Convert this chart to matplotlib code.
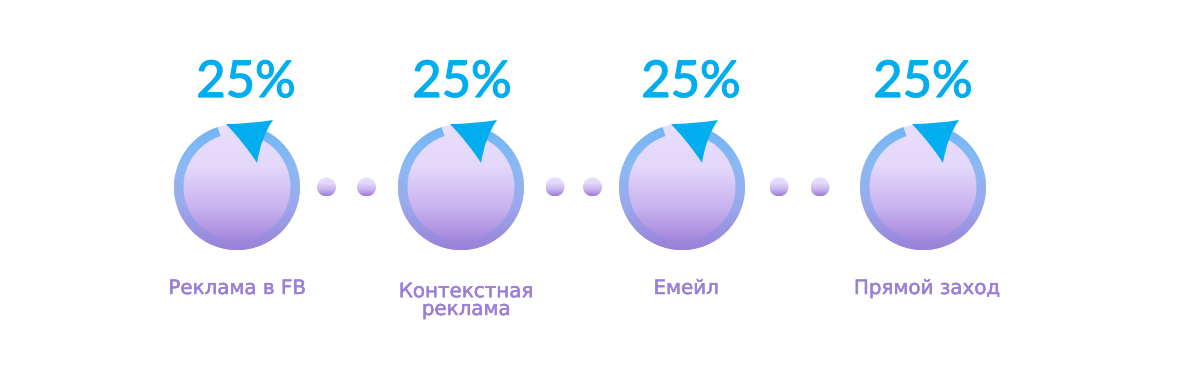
import matplotlib
matplotlib.use('Agg')
import matplotlib.pyplot as plt
from matplotlib.patches import Circle, Wedge, PathPatch
from matplotlib.path import Path
from matplotlib.colors import LinearSegmentedColormap
import matplotlib.patheffects as pe
import numpy as np

# data
categories = ['Реклама в FB', 'Контекстная\nреклама', 'Емейл', 'Прямой заход']
shares = [25, 25, 25, 25]

# layout (pixels, y down)
W, H = 1200, 380
CX = [237, 461, 682, 923]
CY = 187
PCT_X = [246, 462, 691, 923]
LBL_X = [237, 466, 686, 927]
LBL_Y = [294, 315, 294, 294]
DOT_X = [326.5, 366.5, 555, 592.5, 779, 820]
R_OUT, R_IN = 63, 53.5
R_DOT = 9.5

blue = '#00aeef'
lbl_col = '#9a7fd6'
inner_cmap = LinearSegmentedColormap.from_list('inner', ['#e8defd', '#e4d8fb', '#c8b2ef', '#9a7bd6'])
ring_cmap = LinearSegmentedColormap.from_list('ring', ['#6fb5f3', '#8cb9f4', '#9aa8ec', '#9a80d8'])
grad = np.linspace(0, 1, 256).reshape(-1, 1)

fig = plt.figure(figsize=(12, 3.8), dpi=100)
ax = fig.add_axes([0, 0, 1, 1])
ax.set_xlim(0, W)
ax.set_ylim(H, 0)
ax.set_aspect('equal')
ax.axis('off')


def grad_fill(patch, cmap, x0, x1, y0, y1, z):
    ax.add_patch(patch)
    patch.set_visible(False)
    im = ax.imshow(grad, cmap=cmap, extent=(x0, x1, y1, y0), origin='upper',
                   aspect='auto', zorder=z, interpolation='bicubic')
    im.set_clip_path(patch)


for i, (cat, val) in enumerate(zip(categories, shares)):
    cx = CX[i]
    # body
    grad_fill(Circle((cx, CY), R_OUT), inner_cmap,
              cx - R_OUT, cx + R_OUT, CY - R_OUT, CY + R_OUT, 1)
    # ring with a gap at the top
    grad_fill(Wedge((cx, CY), R_OUT, 296, 612, width=R_OUT - R_IN), ring_cmap,
              cx - R_OUT, cx + R_OUT, CY - R_OUT, CY + R_OUT, 2)
    # arrow head
    verts = [(cx - 11, CY - 63), (cx + 12, CY - 63), (cx + 36, CY - 67),
             (cx + 24, CY - 50), (cx + 20, CY - 24),
             (cx + 8, CY - 43), (cx - 11, CY - 63)]
    codes = [Path.MOVETO, Path.CURVE3, Path.CURVE3, Path.CURVE3, Path.CURVE3,
             Path.CURVE3, Path.CURVE3]
    ax.add_patch(PathPatch(Path(verts, codes), facecolor=blue, edgecolor='none', zorder=3))

    t = ax.text(PCT_X[i], 97, f'{val}%', ha='center', va='baseline', fontsize=36.5,
                family='Lato', color=blue)
    t.set_path_effects([pe.withStroke(linewidth=0.9, foreground=blue)])
    t = ax.text(LBL_X[i], LBL_Y[i], cat, ha='center', va='baseline', fontsize=14.3,
                family='DejaVu Sans', color=lbl_col, linespacing=0.92)
    t.set_path_effects([pe.withStroke(linewidth=0.35, foreground=lbl_col)])

for dx in DOT_X:
    grad_fill(Circle((dx, CY), R_DOT), inner_cmap,
              dx - R_DOT, dx + R_DOT, CY - R_DOT, CY + R_DOT, 1)

fig.savefig('out.png', dpi=100, facecolor='white')
